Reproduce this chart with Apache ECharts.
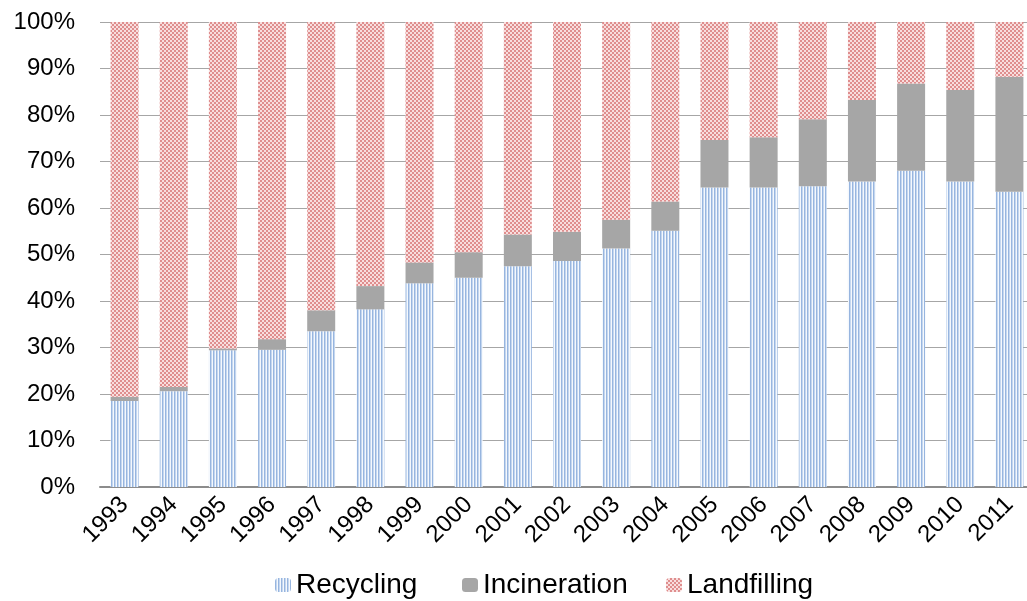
<!DOCTYPE html>
<html>
<head>
<meta charset="utf-8">
<script src="https://cdn.jsdelivr.net/npm/echarts@6/dist/echarts.min.js"></script>
<style>
html,body{margin:0;padding:0;background:#fff;overflow:hidden;}
#c{width:1034px;height:601px;}
</style>
</head>
<body>
<div id="c"></div>
<script>
const years = ['1993','1994','1995','1996','1997','1998','1999','2000','2001','2002','2003','2004','2005','2006','2007','2008','2009','2010','2011'];
const recycling   = [18.5, 20.6, 29.4, 29.5, 33.5, 38.2, 43.8, 45.0, 47.5, 48.6, 51.3, 55.1, 64.4, 64.4, 64.7, 65.7, 68.0, 65.7, 63.5];
const incineration = [0.9, 0.9, 0.4, 2.3, 4.5, 5.0, 4.5, 5.5, 6.8, 6.3, 6.2, 6.3, 10.2, 10.8, 14.4, 17.5, 18.8, 19.7, 24.7];
const landfilling = [80.6, 78.5, 70.2, 68.2, 62.0, 56.8, 51.7, 49.5, 45.7, 45.1, 42.5, 38.6, 25.4, 24.8, 20.9, 16.8, 13.2, 14.6, 11.8];
const seriesNames = ['Recycling','Incineration','Landfilling'];
const yTicks = [0,10,20,30,40,50,60,70,80,90,100];

function stripePattern(){
  const c = document.createElement('canvas');
  c.width = 3; c.height = 4;
  const g = c.getContext('2d');
  const cols = ['#97b5df','#c5d7ef','#f4f8fd'];
  for (let i=0;i<3;i++){ g.fillStyle = cols[i]; g.fillRect(i,0,1,4); }
  return c;
}
function checkPattern(){
  const c = document.createElement('canvas');
  c.width = 4; c.height = 4;
  const g = c.getContext('2d');
  g.fillStyle = '#f8dede'; g.fillRect(0,0,4,4);
  g.fillStyle = '#df8e8e';
  g.fillRect(0,0,2,2); g.fillRect(2,2,2,2);
  return c;
}

const chart = echarts.init(document.getElementById('c'), null, {renderer:'canvas'});
const font = "'Liberation Sans', Arial, sans-serif";
const legendLefts = [275, 462, 666];
const legends = seriesNames.map((n, i) => ({
  left: legendLefts[i], top: 571, padding: 0, itemWidth: 16, itemHeight: 14,
  textStyle: {fontFamily: font, fontSize: 28, color: '#000'},
  data: [n]
}));
chart.setOption({
  animation:false,
  backgroundColor:'#fff',
  grid:{left:100, top:22, right:0, height:465, containLabel:false},
  legend: legends,
  xAxis:{
    type:'category', data:years,
    axisLine:{lineStyle:{color:'#8c8c8c', width:2}},
    axisTick:{show:false},
    axisLabel:{rotate:45, fontFamily:font, fontSize:24, color:'#000', margin:14, interval:0}
  },
  yAxis:{
    type:'value', min:0, max:100, interval:10,
    axisLine:{show:false}, axisTick:{show:false},
    splitLine:{lineStyle:{color:'#a6a6a6', width:1}},
    axisLabel:{formatter:'{value}%', fontFamily:font, fontSize:24, color:'#000', margin:25}
  },
  series:[
    {name:seriesNames[0], type:'bar', stack:'t', barWidth:28, data:recycling,
     itemStyle:{color:{image:stripePattern(), repeat:'repeat'}}},
    {name:seriesNames[1], type:'bar', stack:'t', barWidth:28, data:incineration,
     itemStyle:{color:'#a6a6a6'}},
    {name:seriesNames[2], type:'bar', stack:'t', barWidth:28, data:landfilling,
     itemStyle:{color:{image:checkPattern(), repeat:'repeat'}}}
  ]
});
</script>
</body>
</html>
